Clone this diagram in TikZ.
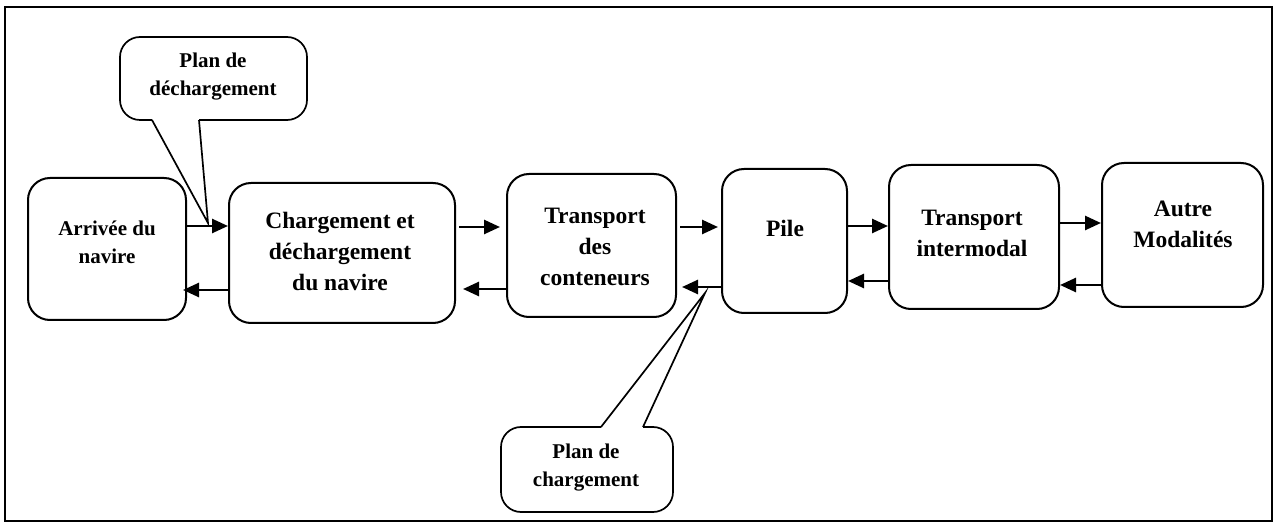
\documentclass[tikz,border=0pt]{standalone}
\usepackage{fontspec}
\setmainfont{Liberation Serif}
\usetikzlibrary{arrows.meta}
\begin{document}
\begin{tikzpicture}[x=1pt,y=-1pt,
  box/.style={draw, line width=2pt, rounded corners=22pt, inner sep=0pt},
  lbl/.style={align=center, font=\bfseries\fontsize{23.5}{31}\selectfont, inner sep=0pt},
  small/.style={align=center, font=\bfseries\fontsize{21}{28}\selectfont, inner sep=0pt},
  flow/.style={line width=2.6pt, -{Triangle[length=16pt,width=14pt]}},
  bubble/.style={line width=1.7pt, line join=miter}]
\useasboundingbox (0,0) rectangle (1277,526);
% outer frame
\draw[line width=1.8pt] (5,7) rectangle (1272,521);

% process boxes
\node[box, minimum width=158pt, minimum height=142pt] (arr) at (107,249) {};
\node[box, minimum width=226pt, minimum height=140pt] (chg) at (342,253) {};
\node[box, minimum width=169pt, minimum height=143pt] (tra) at (591.5,245.5) {};
\node[box, minimum width=125pt, minimum height=144pt] (pile) at (784.5,241) {};
\node[box, minimum width=170pt, minimum height=144pt] (inter) at (974,237) {};
\node[box, minimum width=161pt, minimum height=144pt] (autre) at (1182.5,235) {};

% box labels
\node[small] (tarr) at (107,242) {Arrivée du\\navire};
\node[lbl] (tchg) at (340,251) {Chargement et\\déchargement\\du navire};
\node[lbl] (ttra) at (595,247) {Transport\\des\\conteneurs};
\node[lbl] (tpile) at (785,228) {Pile};
\node[lbl] (tinter) at (972,233) {Transport\\intermodal};
\node[lbl] (tautre) at (1183,224) {Autre\\Modalités};

% callout: unloading plan
\coordinate (tip1) at (208,223);
\draw[bubble, rounded corners=20pt] (199,120) -- (307,120) -- (307,37) -- (120,37) -- (120,120) -- (152,120);
\draw[bubble] (152,120) -- (tip1) -- (199,120);
\node[small] (c1) at (213,77) {Plan de\\déchargement};

% callout: loading plan
\coordinate (tip2) at (705,293);
\draw[bubble, rounded corners=20pt] (643,427) -- (673,427) -- (673,512) -- (501,512) -- (501,427) -- (601,427);
\draw[bubble] (601,427) -- (tip2) -- (643,427);
\node[small] (c2) at (586,468) {Plan de\\chargement};

% flows between stages
\draw[flow] (arr.east |- 0,226) -- (chg.west |- 0,226);
\draw[flow, shorten >=-4pt] (chg.west |- 0,290) -- (arr.east |- 0,290);
\draw[flow, shorten <=3pt, shorten >=6pt] (chg.east |- 0,227) -- (tra.west |- 0,227);
\draw[flow, shorten >=7pt] (tra.west |- 0,289) -- (chg.east |- 0,289);
\draw[flow, shorten <=3pt, shorten >=3pt] (tra.east |- 0,227) -- (pile.west |- 0,227);
\draw[flow, shorten >=5pt] (pile.west |- 0,287) -- (tra.east |- 0,287);
\draw[flow] (pile.east |- 0,226) -- (inter.west |- 0,226);
\draw[flow] (inter.west |- 0,281) -- (pile.east |- 0,281);
\draw[flow] (inter.east |- 0,223) -- (autre.west |- 0,223);
\draw[flow] (autre.west |- 0,285) -- (inter.east |- 0,285);
\end{tikzpicture}
\end{document}
